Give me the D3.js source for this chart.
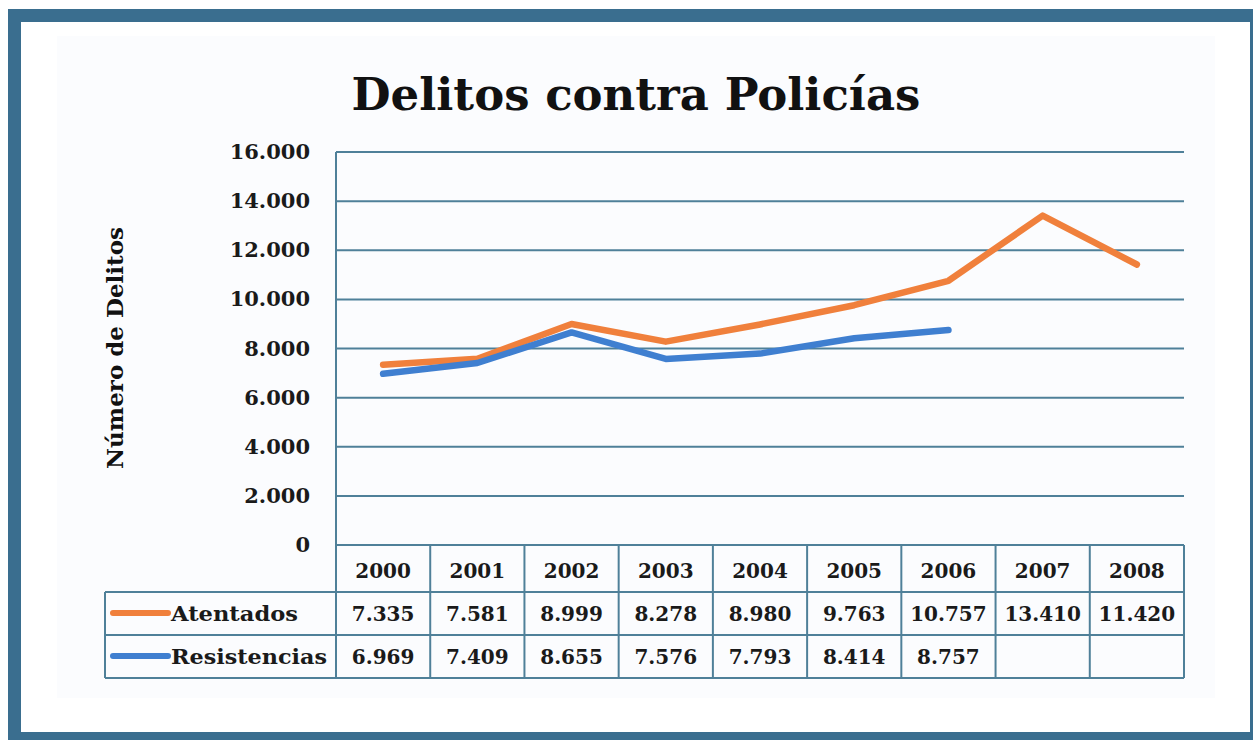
<!DOCTYPE html>
<html><head><meta charset="utf-8">
<script src="https://cdn.jsdelivr.net/npm/d3@7"></script>
<style>html,body{margin:0;padding:0;background:#fff;}</style>
</head><body>
<svg id="c" width="1253" height="740"></svg>
<script>
const years = ["2000","2001","2002","2003","2004","2005","2006","2007","2008"];
const atentados = [7335,7581,8999,8278,8980,9763,10757,13410,11420];
const resistencias = [6969,7409,8655,7576,7793,8414,8757,null,null];
const yTicks = [0,2000,4000,6000,8000,10000,12000,14000,16000];
const seriesNames = ["Atentados","Resistencias"];
const seriesColors = ["#f0803c","#3f7fd0"];

const svg = d3.select("#c");
const gridColor = "#4f8099";
const font = "'DejaVu Serif', serif";

// frame
svg.append("rect").attr("x",8).attr("y",9).attr("width",1245).attr("height",731).attr("fill","#3a6e8f");
svg.append("rect").attr("x",21).attr("y",22).attr("width",1229).attr("height",710).attr("fill","#fff");
svg.append("rect").attr("x",57).attr("y",36).attr("width",1158).attr("height",662).attr("fill","#fbfcfe");

const L=336, R=1184, T=152, B=545;
const x = d3.scaleBand().domain(years).range([L,R]);
const y = d3.scaleLinear().domain([0,16000]).range([B,T]);

// title
svg.append("text").attr("x",636).attr("y",110).attr("text-anchor","middle")
  .attr("font-family",font).attr("font-weight","bold").attr("font-size",45).attr("fill","#111")
  .text("Delitos contra Policías");

// grid
svg.append("g").selectAll("line").data(yTicks).join("line")
  .attr("x1",L).attr("x2",R).attr("y1",d=>y(d)).attr("y2",d=>y(d))
  .attr("stroke",gridColor).attr("stroke-width",2);
svg.append("line").attr("x1",L).attr("x2",L).attr("y1",T).attr("y2",678).attr("stroke",gridColor).attr("stroke-width",2);

// y axis labels
const fmt = d=> d===0 ? "0" : d3.format(",")(d).replace(/,/g,".");
svg.append("g").selectAll("text").data(yTicks).join("text")
  .attr("x",310).attr("y",d=>y(d)+7).attr("text-anchor","end")
  .attr("font-family",font).attr("font-size",21).attr("font-weight","bold").attr("fill","#1a1a1a")
  .text(fmt);

svg.append("text").attr("transform","translate(123,348) rotate(-90)").attr("text-anchor","middle")
  .attr("font-family",font).attr("font-weight","bold").attr("font-size",23).attr("fill","#111")
  .text("Número de Delitos");

// lines
const line = d3.line().defined(d=>d!=null).x((d,i)=>x(years[i])+x.bandwidth()/2).y(d=>y(d));
[atentados,resistencias].forEach((s,k)=>{
  svg.append("path").attr("d",line(s)).attr("fill","none").attr("stroke",seriesColors[k])
    .attr("stroke-width",6.5).attr("stroke-linejoin","round").attr("stroke-linecap","round");
});

// table
const g = svg.append("g");
[592,635,678].forEach(yy=>{
  g.append("line").attr("x1",105).attr("x2",R).attr("y1",yy).attr("y2",yy).attr("stroke",gridColor).attr("stroke-width",2);
});
g.append("line").attr("x1",105).attr("x2",105).attr("y1",592).attr("y2",678).attr("stroke",gridColor).attr("stroke-width",2);
const colEdges = years.map(d=>x(d)+x.bandwidth()).concat([L]);
g.selectAll("line.v").data(colEdges).join("line").attr("class","v")
  .attr("x1",d=>d).attr("x2",d=>d).attr("y1",545).attr("y2",678).attr("stroke",gridColor).attr("stroke-width",2);
// header
g.selectAll("text.h").data(years).join("text").attr("class","h")
  .attr("x",d=>x(d)+x.bandwidth()/2).attr("y",578).attr("text-anchor","middle")
  .attr("font-family",font).attr("font-size",20).attr("font-weight","bold").attr("fill","#1a1a1a").text(d=>d);
// values
[atentados,resistencias].forEach((s,k)=>{
  const cy = k===0 ? 621 : 664;
  g.append("g").selectAll("text").data(s).join("text")
    .attr("x",(d,i)=>x(years[i])+x.bandwidth()/2).attr("y",cy).attr("text-anchor","middle")
    .attr("font-family",font).attr("font-size",20).attr("font-weight","bold").attr("fill","#1a1a1a")
    .text(d=> d==null ? "" : fmt(d));
  g.append("line").attr("x1",113).attr("x2",168).attr("y1",cy-8).attr("y2",cy-8)
    .attr("stroke",seriesColors[k]).attr("stroke-width",6).attr("stroke-linecap","round");
  g.append("text").attr("x",171).attr("y",cy).attr("font-family",font).attr("font-size",20)
    .attr("font-weight","bold").attr("fill","#1a1a1a")
    .attr("textLength", k===0 ? 127 : 156).attr("lengthAdjust","spacingAndGlyphs")
    .text(seriesNames[k]);
});
</script>
</body></html>
